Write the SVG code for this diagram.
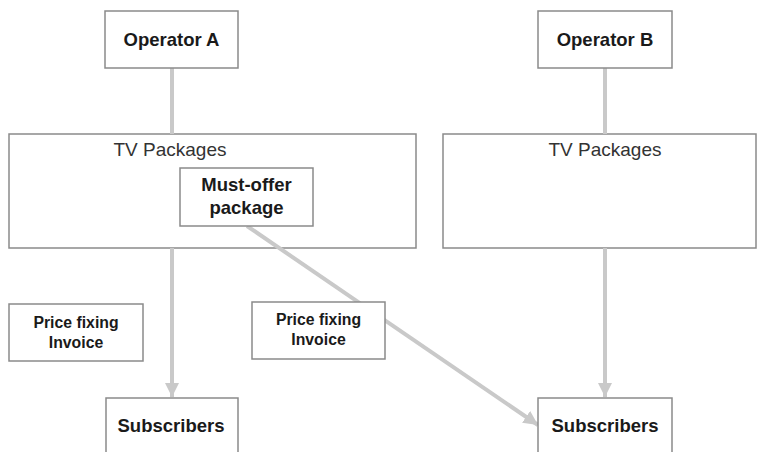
<svg xmlns="http://www.w3.org/2000/svg" width="760" height="452" viewBox="0 0 760 452">
<style>
.box{fill:#fff;stroke:#8a8a8a;stroke-width:1.5}
.lbl{font-family:"Liberation Sans",Arial,sans-serif;font-weight:bold;font-size:18.5px;fill:#1a1a1a;text-anchor:middle}
.reg{font-family:"Liberation Sans",Arial,sans-serif;font-size:19px;fill:#333;text-anchor:middle}
.sm{font-family:"Liberation Sans",Arial,sans-serif;font-weight:bold;font-size:15.8px;fill:#1a1a1a;text-anchor:middle}
.con{stroke:#c9c9c9;stroke-width:4;fill:none}
</style>
<defs>
<marker id="ah" viewBox="0 0 10 10" refX="10" refY="5" markerWidth="3.6" markerHeight="3.6" markerUnits="strokeWidth" orient="auto">
<path d="M0,0 L10,5 L0,10 z" fill="#c9c9c9"/>
</marker>
</defs>
<g id="tvA"><rect class="box" x="9" y="134" width="407" height="114"/><text class="reg" x="170" y="156">TV Packages</text></g>
<g id="tvB"><rect class="box" x="443" y="134" width="313" height="114"/><text class="reg" x="605" y="156">TV Packages</text></g>
<g id="connectors">
<line class="con" x1="172" y1="68" x2="172" y2="134"/>
<line class="con" x1="605" y1="68" x2="605" y2="134"/>
<line class="con" x1="172" y1="248" x2="172" y2="397" marker-end="url(#ah)"/>
<line class="con" x1="605" y1="248" x2="605" y2="397" marker-end="url(#ah)"/>
<line class="con" x1="247" y1="226" x2="538" y2="425" marker-end="url(#ah)"/>
</g>
<g id="operatorA"><rect class="box" x="105" y="11" width="133" height="57"/><text class="lbl" x="171.5" y="46">Operator A</text></g>
<g id="operatorB"><rect class="box" x="538" y="11" width="134" height="57"/><text class="lbl" x="605" y="46">Operator B</text></g>
<g id="mustoffer"><rect class="box" x="180" y="168" width="133" height="58"/><text class="lbl" x="246.5" y="191">Must-offer</text><text class="lbl" x="246.5" y="214">package</text></g>
<g id="priceA"><rect class="box" x="9" y="304" width="134" height="57"/><text class="sm" x="76" y="328">Price fixing</text><text class="sm" x="76" y="348">Invoice</text></g>
<g id="priceB"><rect class="box" x="252" y="302" width="133" height="57"/><text class="sm" x="318.5" y="325">Price fixing</text><text class="sm" x="318.5" y="345">Invoice</text></g>
<g id="subsA"><rect class="box" x="106" y="398" width="132" height="70"/><text class="lbl" x="171" y="432">Subscribers</text></g>
<g id="subsB"><rect class="box" x="538" y="398" width="134" height="70"/><text class="lbl" x="605" y="432">Subscribers</text></g>
</svg>
